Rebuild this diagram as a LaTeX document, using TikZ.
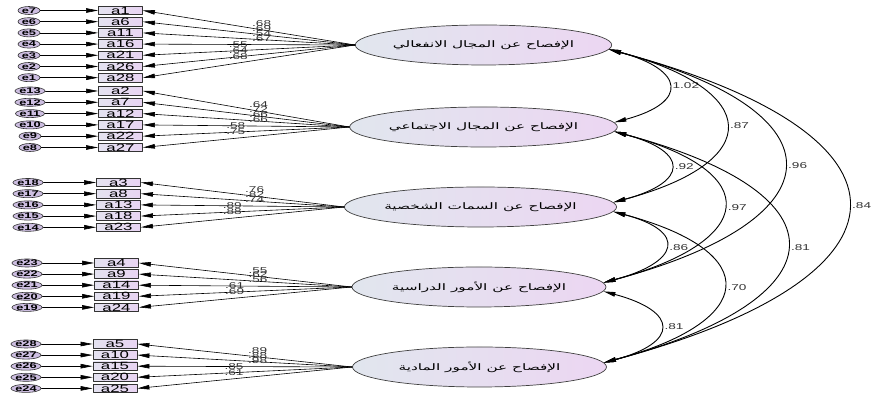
\documentclass[tikz,border=0pt]{standalone}
\usepackage{fontspec}
\setmainfont{Liberation Sans}[FakeStretch=1.6]
\newfontfamily\arabicfont[Script=Arabic,FakeStretch=1.7]{DejaVu Sans}
\TeXXeTstate=1
\usepackage{xcolor}
\usetikzlibrary{arrows.meta,shapes.geometric}
\definecolor{latleft}{RGB}{225,230,238}
\definecolor{latright}{RGB}{236,214,242}
\definecolor{boxleft}{RGB}{228,226,240}
\definecolor{boxright}{RGB}{232,212,242}
\definecolor{errfill}{RGB}{205,190,225}

\begin{document}
\begin{tikzpicture}[line cap=round,line join=round,>={Triangle[length=12pt,width=4.5pt]},x=1pt,y=1pt,
    latent/.style={ellipse,draw=black!75,line width=0.7pt,left color=latleft,right color=latright,minimum width=254pt,minimum height=40pt,inner sep=0pt,font=\arabicfont\fontsize{9}{9}\selectfont},
    item/.style={rectangle,draw=black!80,line width=0.8pt,left color=boxleft,right color=boxright,minimum width=44pt,minimum height=8.5pt,inner sep=0pt,font=\fontsize{10.5}{10.5}\selectfont},
    err/.style={ellipse,draw=black!80,line width=0.6pt,fill=errfill,minimum width=22pt,minimum height=8pt,inner sep=0pt,font=\bfseries\fontsize{8}{8}\selectfont},
    load/.style={->,line width=0.6pt},
    cov/.style={<->,line width=0.9pt},
    coef/.style={above=2pt,inner sep=1pt,text=black!80,font=\fontsize{8.5}{8.5}\selectfont},
    covlbl/.style={right,inner sep=4pt,text=black!80,font=\fontsize{8.5}{8.5}\selectfont}]
                \useasboundingbox (0,0) rectangle (873,395);
                \node[latent] (f1) at (483.5,350) {\beginR الإفصاح عن المجال الانفعالي\endR};
                \node[latent] (f2) at (483.5,268) {\beginR الإفصاح عن المجال الاجتماعي\endR};
                \node[latent] (f3) at (480.5,188) {\beginR الإفصاح عن السمات الشخصية\endR};
                \node[latent] (f4) at (479,108) {\beginR الإفصاح عن الأمور الدراسية\endR};
                \node[latent] (f5) at (479.5,28) {\beginR الإفصاح عن الأمور المادية\endR};
                \node[item] (a1) at (120.5,384.5) {a1};
                \node[item] (a6) at (120.5,373.3) {a6};
                \node[item] (a11) at (120.5,362.1) {a11};
                \node[item] (a16) at (120.5,350.9) {a16};
                \node[item] (a21) at (120.5,339.7) {a21};
                \node[item] (a26) at (120.5,328.5) {a26};
                \node[item] (a28) at (120.5,317.3) {a28};
                \node[item] (a2) at (120.5,304) {a2};
                \node[item] (a7) at (120.5,292.7) {a7};
                \node[item] (a12) at (120.5,281.4) {a12};
                \node[item] (a17) at (120.5,270.1) {a17};
                \node[item] (a22) at (120.5,258.8) {a22};
                \node[item] (a27) at (120.5,247.5) {a27};
                \node[item] (a3) at (118.5,212.5) {a3};
                \node[item] (a8) at (118.5,201.3) {a8};
                \node[item] (a13) at (118.5,190.1) {a13};
                \node[item] (a18) at (118.5,178.9) {a18};
                \node[item] (a23) at (118.5,167.7) {a23};
                \node[item] (a4) at (116.5,132) {a4};
                \node[item] (a9) at (116.5,120.9) {a9};
                \node[item] (a14) at (116.5,109.8) {a14};
                \node[item] (a19) at (116.5,98.7) {a19};
                \node[item] (a24) at (116.5,87.6) {a24};
                \node[item] (a5) at (115,51) {a5};
                \node[item] (a10) at (115,39.9) {a10};
                \node[item] (a15) at (115,28.8) {a15};
                \node[item] (a20) at (115,17.7) {a20};
                \node[item] (a25) at (115,6.6) {a25};
                \node[err] (e7) at (29,384.5) {e7};
                \node[err] (e6) at (29,373.3) {e6};
                \node[err] (e5) at (29,362.1) {e5};
                \node[err] (e4) at (29,350.9) {e4};
                \node[err] (e3) at (29,339.7) {e3};
                \node[err] (e2) at (29,328.5) {e2};
                \node[err] (e1) at (29,317.3) {e1};
                \node[err] (e13) at (30,304) {e13};
                \node[err] (e12) at (30,292.7) {e12};
                \node[err] (e11) at (30,281.4) {e11};
                \node[err] (e10) at (30,270.1) {e10};
                \node[err] (e9) at (30,258.8) {e9};
                \node[err] (e8) at (30,247.5) {e8};
                \node[err] (e18) at (28,212.5) {e18};
                \node[err] (e17) at (28,201.3) {e17};
                \node[err] (e16) at (28,190.1) {e16};
                \node[err] (e15) at (28,178.9) {e15};
                \node[err] (e14) at (28,167.7) {e14};
                \node[err] (e23) at (27,132) {e23};
                \node[err] (e22) at (27,120.9) {e22};
                \node[err] (e21) at (27,109.8) {e21};
                \node[err] (e20) at (27,98.7) {e20};
                \node[err] (e19) at (27,87.6) {e19};
                \node[err] (e28) at (26,51) {e28};
                \node[err] (e27) at (26,39.9) {e27};
                \node[err] (e26) at (26,28.8) {e26};
                \node[err] (e25) at (26,17.7) {e25};
                \node[err] (e24) at (26,6.6) {e24};
                \draw [load] (e7)-- (a1);
                \draw [load] (e6)-- (a6);
                \draw [load] (e5)-- (a11);
                \draw [load] (e4)-- (a16);
                \draw [load] (e3)-- (a21);
                \draw [load] (e2)-- (a26);
                \draw [load] (e1)-- (a28);
                \draw [load] (e13)-- (a2);
                \draw [load] (e12)-- (a7);
                \draw [load] (e11)-- (a12);
                \draw [load] (e10)-- (a17);
                \draw [load] (e9)-- (a22);
                \draw [load] (e8)-- (a27);
                \draw [load] (e18)-- (a3);
                \draw [load] (e17)-- (a8);
                \draw [load] (e16)-- (a13);
                \draw [load] (e15)-- (a18);
                \draw [load] (e14)-- (a23);
                \draw [load] (e23)-- (a4);
                \draw [load] (e22)-- (a9);
                \draw [load] (e21)-- (a14);
                \draw [load] (e20)-- (a19);
                \draw [load] (e19)-- (a24);
                \draw [load] (e28)-- (a5);
                \draw [load] (e27)-- (a10);
                \draw [load] (e26)-- (a15);
                \draw [load] (e25)-- (a20);
                \draw [load] (e24)-- (a25);
                \draw [load] (f1.west)-- node[coef,pos=0.44] {.68} (a1.east);
                \draw [load] (f1.west)-- node[coef,pos=0.44] {.69} (a6.east);
                \draw [load] (f1.west)-- node[coef,pos=0.44] {.54} (a11.east);
                \draw [load] (f1.west)-- node[coef,pos=0.44] {.67} (a16.east);
                \draw [load] (f1.west)-- node[coef,pos=0.55] {.55} (a21.east);
                \draw [load] (f1.west)-- node[coef,pos=0.55] {.64} (a26.east);
                \draw [load] (f1.west)-- node[coef,pos=0.55] {.68} (a28.east);
                \draw [load] (f2.west)-- node[coef,pos=0.44] {.64} (a2.east);
                \draw [load] (f2.west)-- node[coef,pos=0.44] {.72} (a7.east);
                \draw [load] (f2.west)-- node[coef,pos=0.44] {.66} (a12.east);
                \draw [load] (f2.west)-- node[coef,pos=0.44] {.66} (a17.east);
                \draw [load] (f2.west)-- node[coef,pos=0.55] {.58} (a22.east);
                \draw [load] (f2.west)-- node[coef,pos=0.55] {.75} (a27.east);
                \draw [load] (f3.west)-- node[coef,pos=0.44] {.76} (a3.east);
                \draw [load] (f3.west)-- node[coef,pos=0.44] {.82} (a8.east);
                \draw [load] (f3.west)-- node[coef,pos=0.44] {.74} (a13.east);
                \draw [load] (f3.west)-- node[coef,pos=0.55] {.89} (a18.east);
                \draw [load] (f3.west)-- node[coef,pos=0.55] {.88} (a23.east);
                \draw [load] (f4.west)-- node[coef,pos=0.44] {.55} (a4.east);
                \draw [load] (f4.west)-- node[coef,pos=0.44] {.62} (a9.east);
                \draw [load] (f4.west)-- node[coef,pos=0.44] {.56} (a14.east);
                \draw [load] (f4.west)-- node[coef,pos=0.55] {.61} (a19.east);
                \draw [load] (f4.west)-- node[coef,pos=0.55] {.69} (a24.east);
                \draw [load] (f5.west)-- node[coef,pos=0.44] {.89} (a5.east);
                \draw [load] (f5.west)-- node[coef,pos=0.44] {.88} (a10.east);
                \draw [load] (f5.west)-- node[coef,pos=0.44] {.98} (a15.east);
                \draw [load] (f5.west)-- node[coef,pos=0.55] {.85} (a20.east);
                \draw [load] (f5.west)-- node[coef,pos=0.55] {.61} (a25.east);
                \draw [cov] (f1.-2.5) to[out=-15,in=15,distance=78pt] node[covlbl] {1.02} (f2.2.5);
                \draw [cov] (f1.-2.5) to[out=-15,in=15,distance=158pt] node[covlbl] {.87} (f3.2.5);
                \draw [cov] (f1.-2.5) to[out=-15,in=15,distance=245pt] node[covlbl] {.96} (f4.2.5);
                \draw [cov] (f1.-2.5) to[out=-15,in=15,distance=333pt] node[covlbl] {.84} (f5.2.5);
                \draw [cov] (f2.-2.5) to[out=-15,in=15,distance=78pt] node[covlbl] {.92} (f3.2.5);
                \draw [cov] (f2.-2.5) to[out=-15,in=15,distance=158pt] node[covlbl] {.97} (f4.2.5);
                \draw [cov] (f2.-2.5) to[out=-15,in=15,distance=245pt] node[covlbl] {.81} (f5.2.5);
                \draw [cov] (f3.-2.5) to[out=-15,in=15,distance=78pt] node[covlbl] {.86} (f4.2.5);
                \draw [cov] (f3.-2.5) to[out=-15,in=15,distance=158pt] node[covlbl] {.70} (f5.2.5);
                \draw [cov] (f4.-2.5) to[out=-15,in=15,distance=78pt] node[covlbl] {.81} (f5.2.5);
            \end{tikzpicture}
\end{document}
